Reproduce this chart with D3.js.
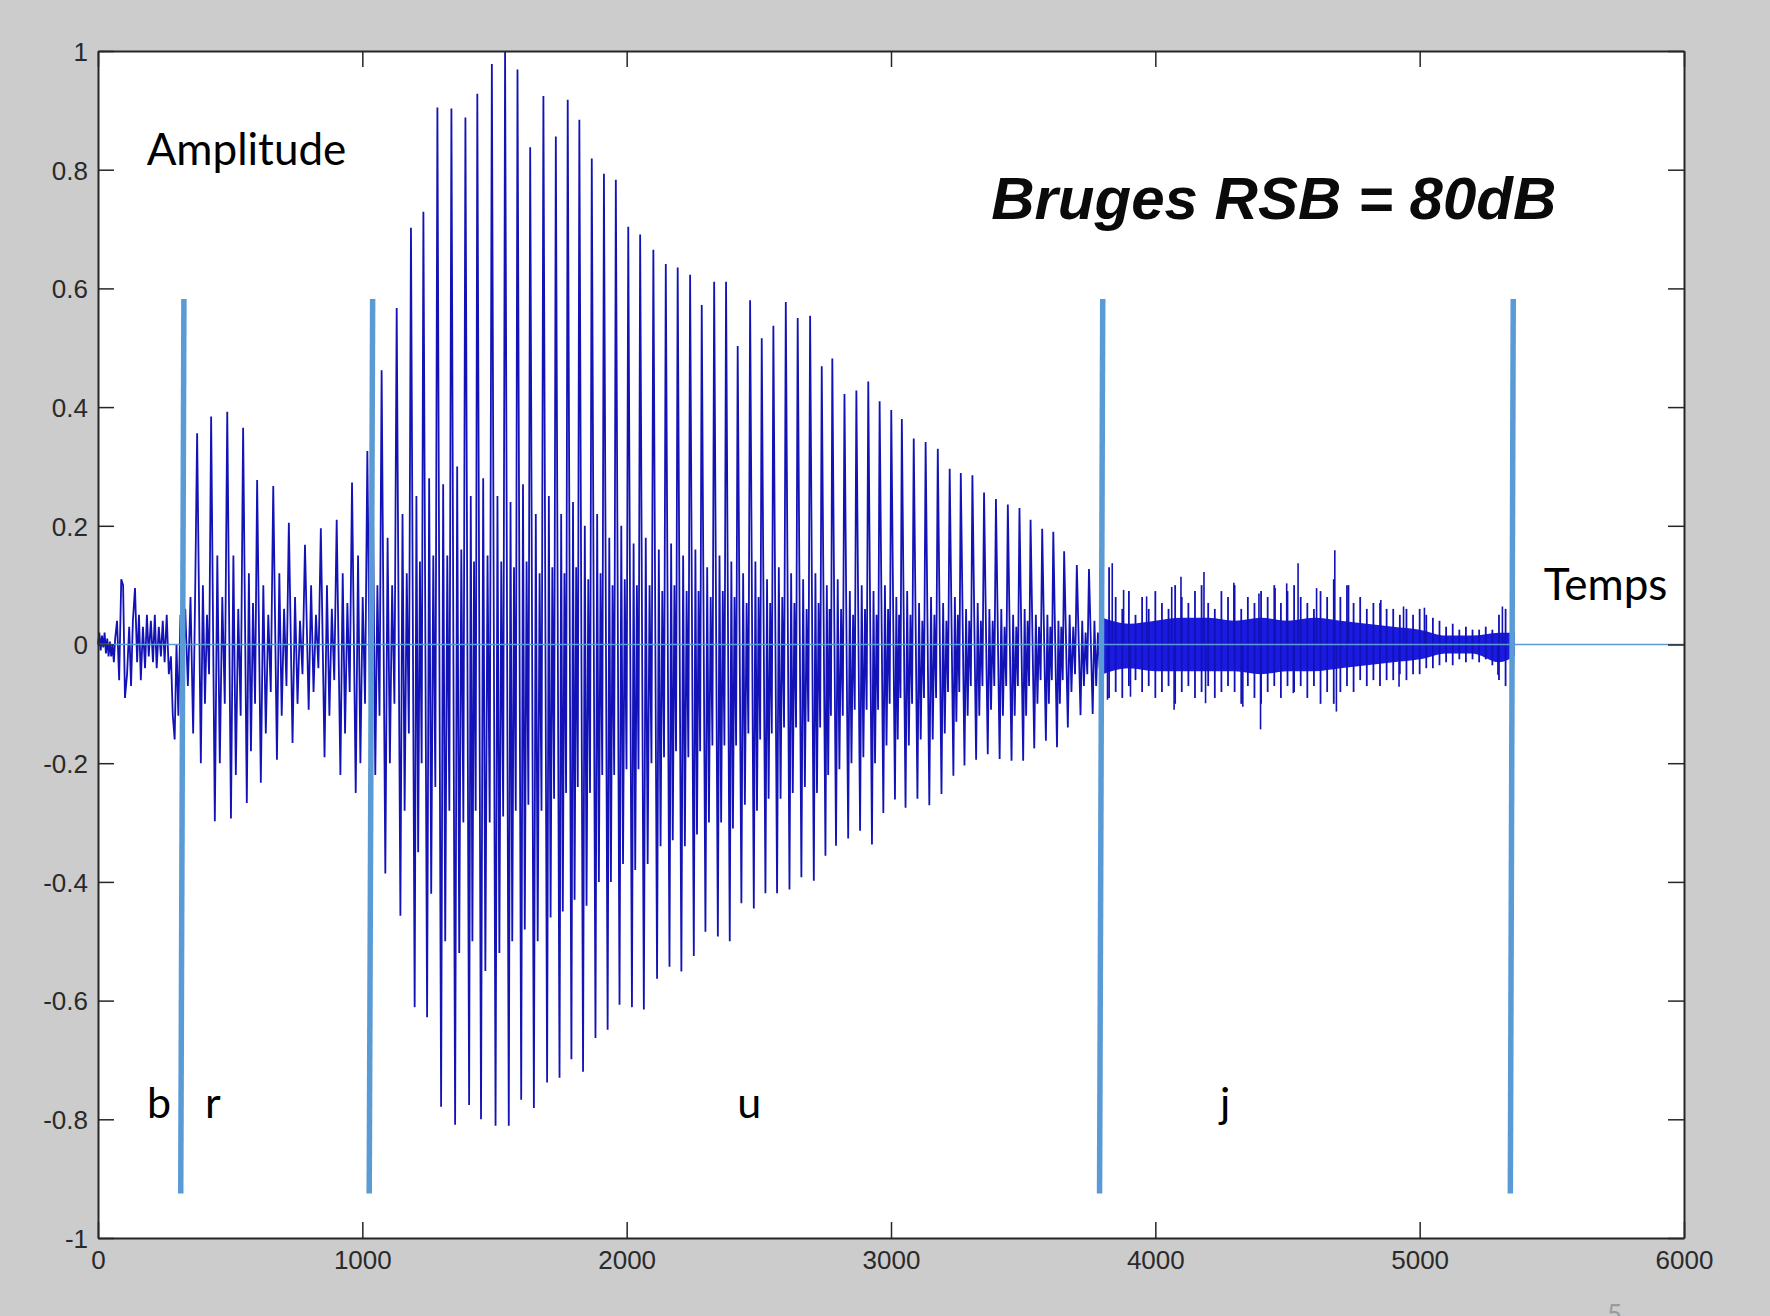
<!DOCTYPE html>
<html>
<head>
<meta charset="utf-8">
<script src="https://cdn.jsdelivr.net/npm/d3@7"></script>
<style>
  body { margin: 0; background: #cccccc; }
  svg { display: block; }
</style>
</head>
<body>
<div id="chart"></div>
<script>
// ---- data (sample index, amplitude) ----
var xTicks = [0, 1000, 2000, 3000, 4000, 5000, 6000];
var yTicks = [-1, -0.8, -0.6, -0.4, -0.2, 0, 0.2, 0.4, 0.6, 0.8, 1];

// "b" burst, point by point
var bSamples = [0, 5, 10, 15, 20, 25, 30, 35, 40, 45, 50, 55, 60, 65, 72, 80, 88, 95, 102, 110, 118, 125, 132, 140, 148, 155, 162, 170, 178, 185, 192, 200, 208, 215, 222, 230, 238, 245, 252, 260, 268, 276, 283, 290, 297, 304, 312, 320, 330, 340, 350, 360, 368];
var bValues = [0.0, 0.02, -0.01, 0.015, -0.005, 0.02, -0.015, 0.01, -0.02, 0.005, -0.02, 0.0, -0.03, 0.01, 0.04, -0.06, 0.11, 0.1, -0.09, -0.05, 0.03, -0.07, 0.04, 0.095, -0.03, 0.05, -0.06, 0.03, -0.04, 0.05, -0.02, 0.04, -0.03, 0.05, -0.04, 0.03, -0.02, 0.04, -0.03, 0.05, -0.05, -0.02, -0.12, -0.16, 0.0, -0.12, 0.05, -0.08, 0.06, -0.07, 0.08, -0.15, 0.1];

// voiced part ("r" and "u"): one entry per pitch period
var pulseTimes = [375, 428, 489, 549, 602, 663, 722, 783, 843, 903, 961, 1019,
  1073, 1130, 1184, 1231, 1284, 1337, 1390, 1435, 1490, 1540,
  1587, 1635, 1685, 1732, 1777, 1821, 1868, 1914, 1959, 2006,
  2051, 2101, 2148, 2193, 2240, 2284, 2331, 2376, 2420, 2467,
  2511, 2555, 2602, 2647, 2694, 2738, 2778, 2824, 2869, 2914,
  2957, 3001, 3041, 3086, 3131, 3177, 3222, 3264, 3308, 3352,
  3397, 3442, 3486, 3528, 3572, 3614, 3655, 3703, 3749];
var pulseTops = [0.356, 0.384, 0.392, 0.365, 0.277, 0.267, 0.205, 0.168, 0.196, 0.21, 0.273, 0.326,
  0.462, 0.567, 0.702, 0.729, 0.905, 0.903, 0.888, 0.928, 0.978, 1.0,
  0.969, 0.838, 0.924, 0.856, 0.918, 0.884, 0.819, 0.793, 0.783, 0.704,
  0.691, 0.665, 0.641, 0.635, 0.623, 0.572, 0.611, 0.611, 0.503, 0.58,
  0.516, 0.537, 0.577, 0.55, 0.554, 0.469, 0.482, 0.422, 0.428, 0.443,
  0.41, 0.395, 0.38, 0.347, 0.341, 0.33, 0.296, 0.289, 0.285, 0.256,
  0.245, 0.236, 0.23, 0.21, 0.195, 0.19, 0.157, 0.134, 0.127];
var pulseBottoms = [-0.2, -0.298, -0.293, -0.267, -0.233, -0.194, -0.166, -0.11, -0.19, -0.22, -0.25, -0.3,
  -0.386, -0.457, -0.611, -0.628, -0.779, -0.809, -0.776, -0.8, -0.811, -0.811,
  -0.767, -0.781, -0.738, -0.73, -0.699, -0.72, -0.663, -0.649, -0.607, -0.611,
  -0.615, -0.563, -0.543, -0.551, -0.525, -0.484, -0.492, -0.5, -0.436, -0.445,
  -0.419, -0.419, -0.413, -0.392, -0.398, -0.356, -0.339, -0.327, -0.314, -0.337,
  -0.284, -0.261, -0.275, -0.26, -0.271, -0.252, -0.221, -0.204, -0.194, -0.185,
  -0.193, -0.196, -0.196, -0.175, -0.162, -0.173, -0.14, -0.119, -0.117];
var pulseTops2 = [0.1, 0.15, 0.15, 0.12, 0.1, 0.12, 0.08, 0.1, 0.1, 0.12, 0.15, 0.2,
  0.18, 0.22, 0.25, 0.28, 0.27, 0.30, 0.25, 0.28, 0.25, 0.24,
  0.27, 0.22, 0.25, 0.22, 0.24, 0.20, 0.22, 0.18, 0.2, 0.17,
  0.18, 0.16, 0.17, 0.15, 0.16, 0.13, 0.15, 0.14, 0.12, 0.14,
  0.11, 0.13, 0.12, 0.11, 0.12, 0.1, 0.11, 0.09, 0.1, 0.09,
  0.1, 0.08, 0.09, 0.07, 0.08, 0.07, 0.08, 0.06, 0.07, 0.06,
  0.06, 0.05, 0.06, 0.05, 0.05, 0.04, 0.05, 0.04, 0.04];
var pulseBottoms2 = [-0.1, -0.2, -0.22, -0.18, -0.15, -0.12, -0.1, -0.08, -0.12, -0.15, -0.2, -0.22,
  -0.2, -0.28, -0.35, -0.42, -0.5, -0.52, -0.5, -0.55, -0.52, -0.5,
  -0.48, -0.5, -0.46, -0.45, -0.43, -0.44, -0.4, -0.4, -0.37, -0.38,
  -0.37, -0.34, -0.33, -0.34, -0.32, -0.3, -0.3, -0.31, -0.27, -0.28,
  -0.26, -0.26, -0.25, -0.24, -0.25, -0.22, -0.21, -0.2, -0.19, -0.2,
  -0.17, -0.16, -0.17, -0.16, -0.16, -0.15, -0.13, -0.12, -0.12, -0.11,
  -0.12, -0.12, -0.12, -0.1, -0.1, -0.1, -0.08, -0.07, -0.07];
var pulseTops3 = [0.05, 0.08, 0.06, 0.07, 0.05, 0.06, 0.04, 0.05, 0.06, 0.07, 0.08, 0.1,
  0.1, 0.12, 0.14, 0.15, 0.15, 0.16, 0.14, 0.15, 0.14, 0.13,
  0.14, 0.12, 0.13, 0.12, 0.13, 0.11, 0.12, 0.1, 0.11, 0.1,
  0.1, 0.09, 0.1, 0.09, 0.09, 0.08, 0.09, 0.08, 0.07, 0.08,
  0.07, 0.08, 0.07, 0.06, 0.07, 0.06, 0.06, 0.05, 0.06, 0.05,
  0.06, 0.05, 0.05, 0.04, 0.05, 0.04, 0.05, 0.04, 0.04, 0.04,
  0.03, 0.03, 0.04, 0.03, 0.03, 0.03, 0.03, 0.02, 0.02];
var pulseBottoms3 = [-0.05, -0.1, -0.12, -0.1, -0.08, -0.07, -0.05, -0.04, -0.06, -0.08, -0.1, -0.12,
  -0.1, -0.15, -0.2, -0.24, -0.28, -0.3, -0.28, -0.3, -0.29, -0.28,
  -0.27, -0.28, -0.26, -0.25, -0.24, -0.25, -0.22, -0.22, -0.21, -0.21,
  -0.2, -0.19, -0.18, -0.19, -0.18, -0.17, -0.17, -0.17, -0.15, -0.16,
  -0.15, -0.14, -0.14, -0.13, -0.14, -0.12, -0.12, -0.11, -0.11, -0.11,
  -0.1, -0.09, -0.1, -0.09, -0.09, -0.08, -0.08, -0.07, -0.07, -0.07,
  -0.07, -0.07, -0.07, -0.06, -0.06, -0.06, -0.05, -0.05, -0.04];

// fricative "j": min/max of each short stretch
var fricTimes = [3800, 3825, 3850, 3875, 3900, 3925, 3950, 3975, 4000, 4025, 4050, 4075, 4100, 4125, 4150, 4175, 4200, 4225, 4250, 4275, 4300, 4325, 4350, 4375, 4400, 4425, 4450, 4475, 4500, 4525, 4550, 4575, 4600, 4625, 4650, 4675, 4700, 4725, 4750, 4775, 4800, 4825, 4850, 4875, 4900, 4925, 4950, 4975, 5000, 5025, 5050, 5075, 5100, 5125, 5150, 5175, 5200, 5225, 5250, 5275, 5300, 5325, 5350];
var fricUpper = [0.1, 0.13, 0.08, 0.06, 0.09, 0.05, 0.08, 0.06, 0.09, 0.07, 0.06, 0.1, 0.08, 0.07, 0.09, 0.1, 0.07, 0.06, 0.09, 0.08, 0.1, 0.06, 0.08, 0.07, 0.09, 0.08, 0.1, 0.07, 0.09, 0.1, 0.08, 0.07, 0.06, 0.09, 0.08, 0.11, 0.08, 0.1, 0.07, 0.08, 0.06, 0.07, 0.07, 0.06, 0.06, 0.05, 0.06, 0.05, 0.06, 0.05, 0.045, 0.04, 0.03, 0.035, 0.025, 0.03, 0.025, 0.025, 0.03, 0.025, 0.05, 0.06, 0.03];
var fricLower = [-0.1, -0.09, -0.08, -0.09, -0.07, -0.06, -0.08, -0.07, -0.09, -0.08, -0.07, -0.1, -0.08, -0.07, -0.09, -0.08, -0.07, -0.09, -0.08, -0.07, -0.08, -0.1, -0.07, -0.09, -0.1, -0.08, -0.07, -0.09, -0.07, -0.08, -0.07, -0.09, -0.07, -0.1, -0.08, -0.1, -0.08, -0.07, -0.08, -0.06, -0.07, -0.06, -0.07, -0.06, -0.06, -0.05, -0.06, -0.05, -0.05, -0.04, -0.04, -0.035, -0.03, -0.035, -0.025, -0.03, -0.025, -0.03, -0.025, -0.035, -0.06, -0.07, -0.03];
// solid core of the "j" band
var coreTimes = [3800, 3900, 4000, 4100, 4200, 4300, 4400, 4500, 4600, 4700, 4800, 4900, 5000, 5100, 5200, 5300, 5360];
var coreUpper = [0.045, 0.035, 0.04, 0.045, 0.045, 0.04, 0.045, 0.04, 0.045, 0.04, 0.035, 0.03, 0.025, 0.015, 0.015, 0.02, 0.02];
var coreLower = [-0.05, -0.04, -0.045, -0.045, -0.045, -0.045, -0.05, -0.045, -0.045, -0.04, -0.035, -0.03, -0.025, -0.015, -0.015, -0.03, -0.02];
// isolated spikes sticking out of the band
var spikeTimes = [3819, 3837, 3880, 3906, 3967, 4062, 4071, 4097, 4184, 4190, 4297, 4331, 4392, 4398, 4453, 4497, 4522, 4540, 4610, 4679, 4685, 4731, 4853, 4922, 4939, 5018, 5296, 5313];
var spikeValues = [-0.093, 0.137, 0.092, -0.088, 0.081, 0.097, -0.11, 0.114, 0.122, -0.099, 0.104, -0.105, 0.086, -0.143, 0.095, 0.103, -0.082, 0.137, 0.095, 0.159, -0.113, 0.1, 0.075, -0.071, 0.064, 0.062, -0.051, 0.064];

// phoneme boundaries (slightly slanted hand-drawn bars)
var boundTop = [325, 1039, 3801, 5354];
var boundBottom = [313, 1026, 3789, 5343];
var boundSpan = [0.582, -0.925];

var segLabels = ["b", "r", "u", "j"];
var segLabelAt = [185, 405, 2418, 4245];

// ---- layout ----
var W = 1770, H = 1316;
var svg = d3.select("#chart").append("svg")
    .attr("width", W)
    .attr("height", H);

svg.append("rect").attr("width", W).attr("height", H).attr("fill", "#cccccc");

var x = d3.scaleLinear().domain([0, 6000]).range([98, 1684]);
var y = d3.scaleLinear().domain([-1, 1]).range([1238, 51]);

svg.append("rect")
    .attr("x", x(0)).attr("y", y(1))
    .attr("width", x(6000) - x(0))
    .attr("height", y(-1) - y(1))
    .attr("fill", "#ffffff");

// ---- waveform ----
var waveColor = "#1212b6";
var pts = [];
for (var i = 0; i < bSamples.length; i++) pts.push([bSamples[i], bValues[i]]);
var lag = 14;
for (i = 0; i < pulseTimes.length; i++) {
    var t = pulseTimes[i];
    var p = i < pulseTimes.length - 1 ? pulseTimes[i + 1] - t : 47;
    var r = p - lag;
    pts.push([t, pulseTops[i]]);
    pts.push([t + lag, pulseBottoms[i]]);
    pts.push([t + lag + r * 0.2, pulseTops2[i]]);
    pts.push([t + lag + r * 0.4, pulseBottoms2[i]]);
    pts.push([t + lag + r * 0.6, pulseTops3[i]]);
    pts.push([t + lag + r * 0.8, pulseBottoms3[i]]);
}
pts.push([fricTimes[0], fricUpper[0]]);

var line = d3.line().x(function(d) { return x(d[0]); }).y(function(d) { return y(d[1]); });

var wave = svg.append("g");
wave.append("path")
    .attr("d", line(pts))
    .attr("fill", "none")
    .attr("stroke", waveColor)
    .attr("stroke-width", 1.8)
    .attr("stroke-linejoin", "bevel");

var core = d3.area()
    .curve(d3.curveMonotoneX)
    .x(function(d, k) { return x(coreTimes[k]); })
    .y0(function(d, k) { return y(coreLower[k]); })
    .y1(function(d, k) { return y(coreUpper[k]); });

wave.append("path")
    .attr("d", core(coreTimes))
    .attr("fill", "#1a1ae0");

wave.selectAll("line.fric")
    .data(fricTimes)
    .enter().append("line")
    .attr("class", "fric")
    .attr("x1", function(d) { return x(d); })
    .attr("x2", function(d) { return x(d); })
    .attr("y1", function(d, k) { return y(fricLower[k]); })
    .attr("y2", function(d, k) { return y(fricUpper[k]); })
    .attr("stroke", waveColor)
    .attr("stroke-width", 1.8);

wave.selectAll("line.spike")
    .data(spikeTimes)
    .enter().append("line")
    .attr("class", "spike")
    .attr("x1", function(d) { return x(d); })
    .attr("x2", function(d) { return x(d); })
    .attr("y1", y(0))
    .attr("y2", function(d, k) { return y(spikeValues[k]); })
    .attr("stroke", waveColor)
    .attr("stroke-width", 1.6);

// zero line
svg.append("line")
    .attr("x1", x(0)).attr("x2", x(6000))
    .attr("y1", y(0)).attr("y2", y(0))
    .attr("stroke", "#5b9bd5")
    .attr("stroke-width", 1.6);

// boundaries
svg.selectAll("line.bound")
    .data(boundTop)
    .enter().append("line")
    .attr("class", "bound")
    .attr("x1", function(d) { return x(d); })
    .attr("y1", y(boundSpan[0]))
    .attr("x2", function(d, k) { return x(boundBottom[k]); })
    .attr("y2", y(boundSpan[1]))
    .attr("stroke", "#5b9bd5")
    .attr("stroke-width", 5.5);

// ---- axes (MATLAB box, ticks inside) ----
var axisColor = "#262626";
var tickFont = "'Liberation Sans', Arial, sans-serif";

var gx = svg.append("g").attr("transform", "translate(0," + y(-1) + ")")
    .call(d3.axisBottom(x).tickValues(xTicks).tickSizeInner(-16).tickSizeOuter(0).tickPadding(13)
        .tickFormat(function(d) { return String(d); }));
var gxt = svg.append("g").attr("transform", "translate(0," + y(1) + ")")
    .call(d3.axisTop(x).tickValues(xTicks).tickSizeInner(-16).tickSizeOuter(0).tickFormat(""));
var gy = svg.append("g").attr("transform", "translate(" + x(0) + ",0)")
    .call(d3.axisLeft(y).tickValues(yTicks).tickSizeInner(-16).tickSizeOuter(0).tickPadding(10)
        .tickFormat(function(d) { return String(d); }));
var gyr = svg.append("g").attr("transform", "translate(" + x(6000) + ",0)")
    .call(d3.axisRight(y).tickValues(yTicks).tickSizeInner(-16).tickSizeOuter(0).tickFormat(""));

[gx, gxt, gy, gyr].forEach(function(g) {
    g.select(".domain").attr("stroke", axisColor).attr("stroke-width", 2);
    g.selectAll(".tick line").attr("stroke", axisColor).attr("stroke-width", 1.5);
    g.selectAll("text")
        .attr("fill", "#2a2a2a")
        .style("font-family", tickFont)
        .style("font-size", "26px");
});
gy.selectAll(".tick text").attr("dy", "0.36em");

// ---- annotations ----
var calibri = "Lato, 'Open Sans', sans-serif";

svg.append("text")
    .attr("x", x(184)).attr("y", y(0.808))
    .style("font-family", calibri).style("font-size", "44px")
    .attr("fill", "#000")
    .text("Amplitude");

svg.append("text")
    .attr("x", x(5469)).attr("y", y(0.075))
    .style("font-family", calibri).style("font-size", "44px")
    .attr("fill", "#000")
    .text("Temps");

svg.append("text")
    .attr("x", x(3379)).attr("y", y(0.717))
    .style("font-family", "'Liberation Sans', Arial, sans-serif")
    .style("font-size", "60px")
    .style("font-weight", "bold")
    .style("font-style", "italic")
    .attr("fill", "#0a0a0a")
    .text("Bruges RSB = 80dB");

svg.selectAll("text.seg")
    .data(segLabels)
    .enter().append("text")
    .attr("class", "seg")
    .attr("x", function(d, k) { return x(segLabelAt[k]); })
    .attr("y", y(-0.798))
    .style("font-family", calibri).style("font-size", "43px")
    .attr("fill", "#000")
    .text(function(d) { return d; });

// slide number peeking in at the bottom
svg.append("text")
    .attr("x", 1607).attr("y", 1324)
    .style("font-family", calibri).style("font-size", "26px")
    .attr("fill", "#9a9a9a")
    .text("5");
</script>
</body>
</html>
